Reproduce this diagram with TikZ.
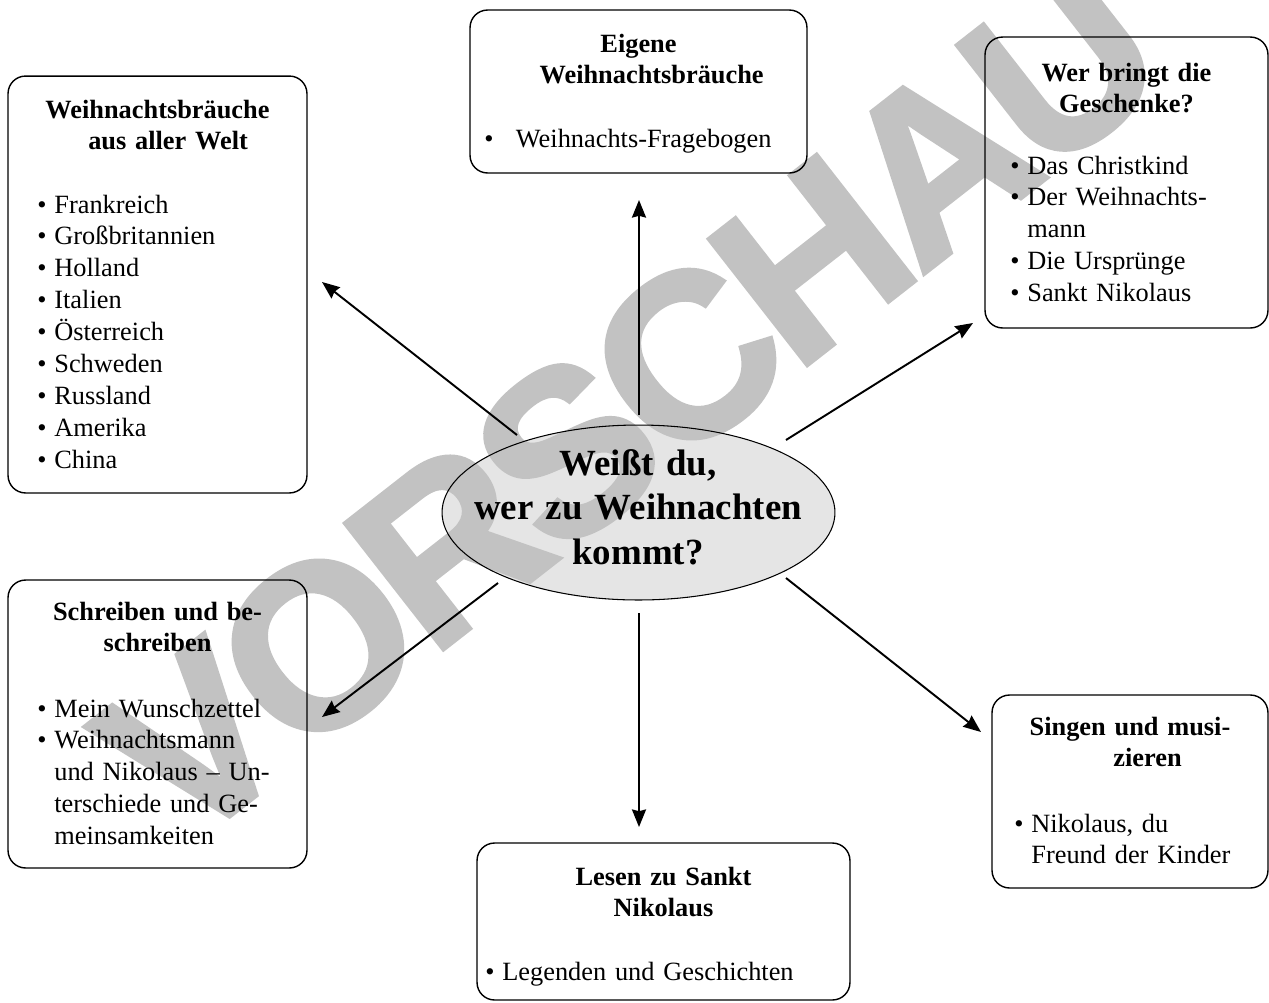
\documentclass[tikz,border=0pt]{standalone}
\usepackage{fontspec}
\setmainfont{Liberation Serif}
\newfontfamily\stempel{Liberation Sans}[FakeBold=2, LetterSpace=-4]
\usetikzlibrary{shapes.geometric,arrows.meta}

\newcommand{\pkt}[1][9.7pt]{\makebox[#1][l]{\textbullet}}
\newcommand{\weiter}[1][9.7pt]{\hspace*{#1}}

\tikzset{
  kasten/.style={draw, line width=0.8pt, rounded corners=10pt, inner sep=0pt},
  kopf/.style={font=\bfseries\fontsize{15}{18.2}\selectfont, align=center, inner sep=0pt, anchor=base},
  liste/.style={font=\fontsize{15}{18.2}\selectfont, align=left, inner sep=0pt, anchor=base west},
  pfeil/.style={-{Stealth[length=10pt, width=8pt, inset=1pt]}, line width=1.1pt}
}

\begin{document}
\begin{tikzpicture}[x=0.02cm, y=-0.02cm]
  \useasboundingbox (0,0) rectangle (1269,1002);

  % Mitte: Fuellung, Stempel darueber, dann Rand und Text
  \fill[black!10] (638.5,512.5) ellipse [x radius=3.93cm, y radius=1.75cm];
  \node[text=black!24, font=\stempel\bfseries\fontsize{132}{132}\selectfont, rotate=38, inner sep=0pt] (vorschau) at (630,402) {VORSCHAU};
  \node[ellipse, draw, line width=0.6pt, minimum width=7.86cm, minimum height=3.5cm, inner sep=0pt] (kern) at (638.5,512.5) {};
  \node[font=\bfseries\fontsize{21}{25.6}\selectfont, align=center, text width=8cm, inner sep=0pt, anchor=base] (frage) at (638,475) {Wei\ss t du,\\wer zu Weihnachten\\kommt?};

  % die sechs Kaesten
  \node[kasten, minimum width=5.98cm, minimum height=8.34cm] (welt) at (157.5,284.5) {};
  \node[kopf, text width=5.98cm] (welt-k) at (157.5,118) {Weihnachtsbräuche\\\hspace*{12pt}aus aller Welt};
  \node[liste, text width=5cm] (welt-l) at (37,213) {\pkt Frankreich\\\pkt Großbritannien\\\pkt Holland\\\pkt Italien\\\pkt Österreich\\\pkt Schweden\\\pkt Russland\\\pkt Amerika\\\pkt China};

  \node[kasten, minimum width=6.74cm, minimum height=3.26cm] (eigen) at (638.5,91.5) {};
  \node[kopf, text width=6.74cm] (eigen-k) at (638.5,52) {Eigene\\\hspace*{15pt}Weihnachtsbräuche};
  \node[liste, text width=6cm] (eigen-l) at (484,147) {\pkt[18pt]Weihnachts-Fragebogen};

  \node[kasten, minimum width=5.66cm, minimum height=5.82cm] (gaben) at (1126.5,182.5) {};
  \node[kopf, text width=5.66cm] (gaben-k) at (1126.5,81) {Wer bringt die\\Geschenke?};
  \node[liste, text width=4.8cm] (gaben-l) at (1010,174) {\pkt Das Christkind\\\pkt Der Weihnachts-\\\weiter mann\\\pkt Die Ursprünge\\\pkt Sankt Nikolaus};

  \node[kasten, minimum width=5.98cm, minimum height=5.76cm] (schreiben) at (157.5,724) {};
  \node[kopf, text width=5.98cm] (schreiben-k) at (157.5,620) {Schreiben und be-\\schreiben};
  \node[liste, text width=5cm] (schreiben-l) at (37,717) {\pkt Mein Wunschzettel\\\pkt Weihnachtsmann\\\weiter und Nikolaus – Un-\\\weiter terschiede und Ge-\\\weiter meinsamkeiten};

  \node[kasten, minimum width=5.52cm, minimum height=3.86cm] (singen) at (1130,791.5) {};
  \node[kopf, text width=5.52cm] (singen-k) at (1130,735) {Singen und musi-\\\hspace*{20pt}zieren};
  \node[liste, text width=4.8cm] (singen-l) at (1014,832) {\pkt Nikolaus, du\\\weiter Freund der Kinder};

  \node[kasten, minimum width=7.46cm, minimum height=3.14cm] (lesen) at (663.5,921.5) {};
  \node[kopf, text width=7.46cm] (lesen-k) at (663.5,885) {Lesen zu Sankt\\Nikolaus};
  \node[liste, text width=6.8cm] (lesen-l) at (485,980) {\pkt Legenden und Geschichten};

  % Pfeile vom Kern nach aussen
  \coordinate (o-eigen) at (639,415);     \coordinate (z-eigen) at (639,200);
  \coordinate (o-gaben) at (786,440);     \coordinate (z-gaben) at (973,323);
  \coordinate (o-welt) at (517,435);      \coordinate (z-welt) at (322,282);
  \coordinate (o-schreiben) at (498,583); \coordinate (z-schreiben) at (322,717);
  \coordinate (o-singen) at (786,578);    \coordinate (z-singen) at (981,732);
  \coordinate (o-lesen) at (639,613);     \coordinate (z-lesen) at (639,827);
  \draw[pfeil] (o-eigen) -- (z-eigen);
  \draw[pfeil] (o-gaben) -- (z-gaben);
  \draw[pfeil] (o-welt) -- (z-welt);
  \draw[pfeil] (o-schreiben) -- (z-schreiben);
  \draw[pfeil] (o-singen) -- (z-singen);
  \draw[pfeil] (o-lesen) -- (z-lesen);
\end{tikzpicture}
\end{document}
